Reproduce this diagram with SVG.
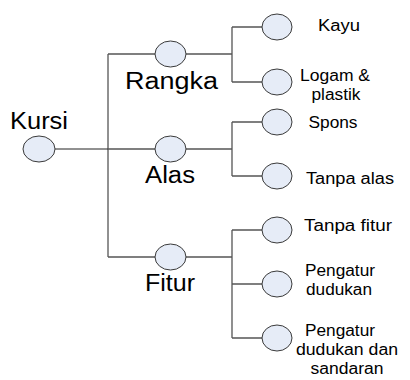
<svg xmlns="http://www.w3.org/2000/svg" width="410" height="380" viewBox="0 0 410 380">
  <style>
    .node { fill: #e6ecf7; stroke: #3a3a3a; stroke-width: 1; }
    .link { fill: none; stroke: #555; stroke-width: 1.3; }
    .trunk { fill: none; stroke: #222; stroke-width: 1; }
    .main { font-family: "Liberation Sans", Arial, sans-serif; font-size: 23px; fill: #000; }
    .leaf { font-family: "Liberation Sans", Arial, sans-serif; font-size: 16px; fill: #000; text-anchor: middle; }
  </style>
  <rect width="410" height="380" fill="#fff"/>

  <!-- connectors -->
  <g id="connectors">
    <path class="trunk" d="M55 149H108M108 54V257"/>
    <path class="link" d="M108 54H155M186 54H232M232 27V82M232 27H262M232 82H262"/>
    <path class="link" d="M108 149H155M186 149H232M232 122V176M232 122H262M232 176H262"/>
    <path class="link" d="M108 257H155M186 257H232M232 230V338M232 230H262M232 284H262M232 338H262"/>
  </g>

  <!-- root -->
  <g id="kursi">
    <ellipse class="node" cx="39" cy="149" rx="16" ry="13"/>
    <text class="main" x="10" y="129" textLength="58" lengthAdjust="spacingAndGlyphs">Kursi</text>
  </g>

  <!-- categories -->
  <g id="rangka">
    <ellipse class="node" cx="170.5" cy="54" rx="15.5" ry="13"/>
    <text class="main" x="125" y="89" textLength="93" lengthAdjust="spacingAndGlyphs">Rangka</text>
  </g>
  <g id="alas">
    <ellipse class="node" cx="170.5" cy="149" rx="15.5" ry="13"/>
    <text class="main" x="145" y="183" textLength="50" lengthAdjust="spacingAndGlyphs">Alas</text>
  </g>
  <g id="fitur">
    <ellipse class="node" cx="170.5" cy="257" rx="15.5" ry="13"/>
    <text class="main" x="145" y="291" textLength="50" lengthAdjust="spacingAndGlyphs">Fitur</text>
  </g>

  <!-- leaves (labels slightly widened) -->
  <g id="kayu">
    <ellipse class="node" cx="277" cy="27" rx="15" ry="13"/>
    <text class="leaf" x="339" y="31" textLength="42" lengthAdjust="spacingAndGlyphs">Kayu</text>
  </g>
  <g id="logam-plastik">
    <ellipse class="node" cx="277" cy="82" rx="15" ry="13"/>
    <text class="leaf" x="335" y="81" textLength="70" lengthAdjust="spacingAndGlyphs">Logam &amp;</text>
    <text class="leaf" x="336" y="100" textLength="49" lengthAdjust="spacingAndGlyphs">plastik</text>
  </g>
  <g id="spons">
    <ellipse class="node" cx="277" cy="122" rx="15" ry="13"/>
    <text class="leaf" x="333" y="128" textLength="49" lengthAdjust="spacingAndGlyphs">Spons</text>
  </g>
  <g id="tanpa-alas">
    <ellipse class="node" cx="277" cy="176" rx="15" ry="13"/>
    <text class="leaf" x="350" y="184" textLength="88" lengthAdjust="spacingAndGlyphs">Tanpa alas</text>
  </g>
  <g id="tanpa-fitur">
    <ellipse class="node" cx="277" cy="230" rx="15" ry="13"/>
    <text class="leaf" x="348" y="231" textLength="88" lengthAdjust="spacingAndGlyphs">Tanpa fitur</text>
  </g>
  <g id="pengatur-dudukan">
    <ellipse class="node" cx="277" cy="284" rx="15" ry="13"/>
    <text class="leaf" x="340" y="276" textLength="70" lengthAdjust="spacingAndGlyphs">Pengatur</text>
    <text class="leaf" x="339" y="295" textLength="66" lengthAdjust="spacingAndGlyphs">dudukan</text>
  </g>
  <g id="pengatur-dudukan-sandaran">
    <ellipse class="node" cx="277" cy="338" rx="15" ry="13"/>
    <text class="leaf" x="340" y="336" textLength="70" lengthAdjust="spacingAndGlyphs">Pengatur</text>
    <text class="leaf" x="347" y="355" textLength="102" lengthAdjust="spacingAndGlyphs">dudukan dan</text>
    <text class="leaf" x="347" y="374" textLength="73" lengthAdjust="spacingAndGlyphs">sandaran</text>
  </g>
</svg>
